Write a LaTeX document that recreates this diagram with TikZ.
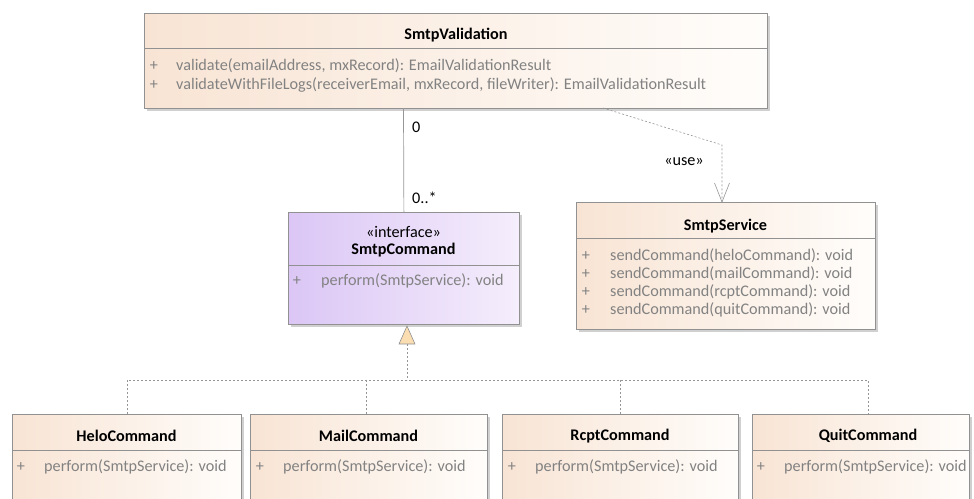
\documentclass[tikz,border=0pt]{standalone}
\usepackage{fontspec}
\setmainfont{Carlito}
\usetikzlibrary{arrows.meta,shadows,calc}
\definecolor{orL}{RGB}{248,228,212}
\definecolor{orR}{RGB}{255,253,251}
\definecolor{puL}{RGB}{219,198,245}
\definecolor{puR}{RGB}{245,238,252}
\definecolor{bord}{RGB}{145,145,145}
\definecolor{mtext}{RGB}{130,130,130}
\definecolor{shad}{RGB}{208,208,208}
\definecolor{trifill}{RGB}{251,221,178}
\definecolor{conn}{RGB}{150,150,150}
\tikzset{
  cls/.style={draw=bord, line width=0.8pt, anchor=north west, inner sep=0pt,
    left color=orL, right color=orR,
    drop shadow={shadow xshift=3pt, shadow yshift=-3pt, fill=shad, opacity=1}},
  iface/.style={cls, left color=puL, right color=puR},
  sep/.style={draw=bord, line width=0.6pt},
  ttl/.style={font=\fontsize{16.2}{19}\selectfont\bfseries, inner sep=0pt},
  stereo/.style={font=\fontsize{16.2}{19}\selectfont, inner sep=0pt},
  plus/.style={font=\fontsize{16.2}{19}\selectfont, text=mtext, inner sep=0pt},
  meth/.style={font=\fontsize{16.2}{19}\selectfont, text=mtext, inner sep=0pt, anchor=west},
  mult/.style={font=\fontsize{16.2}{19}\selectfont, inner sep=0pt, anchor=west},
  gen/.style={draw=conn, line width=0.6pt, dash pattern=on 2pt off 2pt},
  dep/.style={draw=conn, line width=0.6pt, dash pattern=on 2pt off 2pt},
  assoc/.style={draw=conn, line width=0.7pt},
}
\begin{document}
\begin{tikzpicture}[x=1pt,y=-1pt]
\useasboundingbox (0,0) rectangle (974,498);
\clip (0,0) rectangle (974,498);

% SmtpValidation
\node[cls, minimum width=623pt, minimum height=95pt] (val) at (144,13) {};
\draw[sep] (144,48) -- (767,48);
\node[ttl] (valt) at (456,35) {SmtpValidation};
\node[plus] (valp1) at (154,66) {+};
\node[meth] (valm1) at (176,66) {validate(emailAddress, mxRecord): EmailValidationResult};
\node[plus] (valp2) at (154,85) {+};
\node[meth] (valm2) at (176,85) {validateWithFileLogs(receiverEmail, mxRecord, fileWriter): EmailValidationResult};

% SmtpCommand
\node[iface, minimum width=231pt, minimum height=112pt] (cmd) at (288,212) {};
\draw[sep] (288,265) -- (519,265);
\node[stereo] (cmds) at (403.5,232) {«interface»};
\node[ttl] (cmdt) at (403.5,250) {SmtpCommand};
\node[plus] (cmdp) at (297,281) {+};
\node[meth] (cmdm) at (321,281) {perform(SmtpService): void};

% SmtpService
\node[cls, minimum width=299pt, minimum height=127pt] (svc) at (576,202) {};
\draw[sep] (576,238) -- (875,238);
\node[ttl] (svct) at (725.5,226) {SmtpService};
\node[plus] (svcp1) at (586,256) {+};
\node[meth] (svcm1) at (610,256) {sendCommand(heloCommand): void};
\node[plus] (svcp2) at (586,274) {+};
\node[meth] (svcm2) at (610,274) {sendCommand(mailCommand): void};
\node[plus] (svcp3) at (586,292) {+};
\node[meth] (svcm3) at (610,292) {sendCommand(rcptCommand): void};
\node[plus] (svcp4) at (586,310) {+};
\node[meth] (svcm4) at (610,310) {sendCommand(quitCommand): void};

% Sub classes
\node[cls, minimum width=229pt, minimum height=110pt] (helo) at (12,414) {};
\draw[sep] (12,450) -- (241,450);
\node[ttl] (helot) at (126.5,436) {HeloCommand};
\node[plus] (helop) at (21,467) {+};
\node[meth] (helom) at (44,467) {perform(SmtpService): void};

\node[cls, minimum width=237pt, minimum height=110pt] (mail) at (250,414) {};
\draw[sep] (250,450) -- (487,450);
\node[ttl] (mailt) at (368.5,436) {MailCommand};
\node[plus] (mailp) at (260,467) {+};
\node[meth] (mailm) at (283,467) {perform(SmtpService): void};

\node[cls, minimum width=236pt, minimum height=110pt] (rcpt) at (502,414) {};
\draw[sep] (502,450) -- (738,450);
\node[ttl] (rcptt) at (620,436) {RcptCommand};
\node[plus] (rcptp) at (512,467) {+};
\node[meth] (rcptm) at (535,467) {perform(SmtpService): void};

\node[cls, minimum width=217pt, minimum height=110pt] (quit) at (752,414) {};
\draw[sep] (752,450) -- (969,450);
\node[ttl] (quitt) at (868,436) {QuitCommand};
\node[plus] (quitp) at (761,467) {+};
\node[meth] (quitm) at (784,467) {perform(SmtpService): void};

% association
\coordinate (a1) at (403.5,108);
\draw[assoc] (a1) -- (cmd.north);
\node[mult] (m0) at (412,127) {0};
\node[mult] (m1) at (412,198) {0..*};

% dependency
\coordinate (d0) at (603,108);
\coordinate (d1) at (722,145);
\coordinate (d2) at (722,202);
\coordinate (dl) at (714.5,183);
\coordinate (dr) at (729.5,183);
\draw[dep] (d0) -- (d1) -- (d2);
\draw[draw=conn, line width=0.6pt] (dl) -- (d2) -- (dr);
\node[stereo] (use) at (684,162) {«use»};

% generalization
\coordinate (tapex) at (407,326);
\coordinate (tbl) at (399,344);
\coordinate (tbr) at (415,344);
\coordinate (tbase) at (407,344);
\coordinate (hub) at (407,380);
\coordinate (g1) at (127,414);
\coordinate (g2) at (366,414);
\coordinate (g3) at (620,414);
\coordinate (g4) at (868,414);
\coordinate (h1) at (127,380);
\coordinate (h2) at (366,380);
\coordinate (h3) at (620,380);
\coordinate (h4) at (868,380);
\draw[gen] (tbase) -- (hub);
\draw[gen] (g1) -- (h1) -- (h4) -- (g4);
\draw[gen] (g2) -- (h2);
\draw[gen] (g3) -- (h3);
\draw[draw=bord, fill=trifill, line width=0.6pt] (tapex) -- (tbr) -- (tbl) -- cycle;
\end{tikzpicture}
\end{document}
